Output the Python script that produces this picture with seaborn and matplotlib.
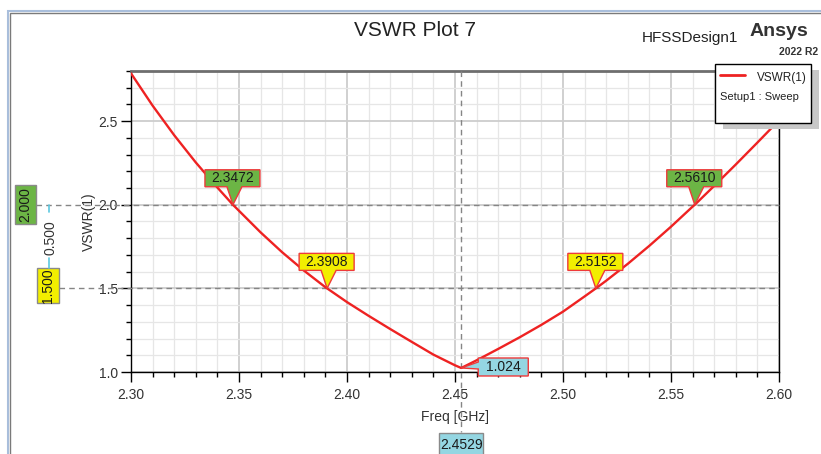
import numpy as np
import pandas as pd
import matplotlib
matplotlib.use("Agg")
import matplotlib.pyplot as plt
import seaborn as sns
from matplotlib.patches import Polygon, Rectangle
from matplotlib.transforms import IdentityTransform, blended_transform_factory
from matplotlib.ticker import MultipleLocator, FormatStrFormatter

# ---- data: VSWR(1) sweep, Setup1 : Sweep ----
freq_ghz = [2.30, 2.31, 2.32, 2.33, 2.34, 2.3472, 2.35, 2.36, 2.37, 2.38, 2.39, 2.3908,
            2.40, 2.41, 2.42, 2.43, 2.44, 2.45, 2.4529, 2.46, 2.47, 2.48, 2.49, 2.50,
            2.51, 2.5152, 2.52, 2.53, 2.54, 2.55, 2.56, 2.5610, 2.57, 2.58, 2.59, 2.60]
vswr = [2.786, 2.593, 2.416, 2.253, 2.103, 2.000, 1.964, 1.835, 1.716, 1.607, 1.507, 1.500,
        1.418, 1.336, 1.257, 1.180, 1.104, 1.040, 1.024, 1.070, 1.138, 1.208, 1.282, 1.361,
        1.452, 1.500, 1.546, 1.647, 1.755, 1.869, 1.989, 2.000, 2.113, 2.241, 2.372, 2.505]

# markers
level_values = [2.0, 1.5]
level_colors = ["#6cb545", "#f2ee00"]
cross_left = [2.3472, 2.3908]
cross_right = [2.5610, 2.5152]
cross_levels = [2.0, 1.5]
min_freq = 2.4529
min_vswr = 1.024
level_delta = 0.500

W, H = 821, 454
df = pd.DataFrame({"Freq [GHz]": freq_ghz, "VSWR(1)": vswr})

sns.set_style("white")
plt.rcParams["font.family"] = ["Liberation Sans", "DejaVu Sans"]

fig = plt.figure(figsize=(W / 100, H / 100), dpi=100)
ax = fig.add_axes([131 / W, 82 / H, 648 / W, 301 / H])

RED = "#ee2222"
sns.lineplot(data=df, x="Freq [GHz]", y="VSWR(1)", ax=ax, color=RED, lw=1.7, zorder=5)

ax.set_xlim(2.30, 2.60)
ax.set_ylim(1.0, 2.8)
ax.xaxis.set_major_locator(MultipleLocator(0.05))
ax.xaxis.set_minor_locator(MultipleLocator(0.01))
ax.yaxis.set_major_locator(MultipleLocator(0.5))
ax.yaxis.set_minor_locator(MultipleLocator(0.1))
ax.xaxis.set_major_formatter(FormatStrFormatter("%.2f"))
ax.yaxis.set_major_formatter(FormatStrFormatter("%.1f"))
ax.grid(which="minor", color="#e6e6e6", lw=0.9)
ax.grid(which="major", color="#cdcdcd", lw=1.3)
ax.set_axisbelow(True)
ax.tick_params(which="major", direction="out", length=7.5, width=1, color="black",
               labelsize=10, labelcolor="#333333", pad=2, left=True, bottom=True)
ax.tick_params(which="minor", direction="out", length=3.8, width=1, color="black",
               left=True, bottom=True)
ax.tick_params(axis="x", pad=4)
for s in ["left", "bottom", "right"]:
    ax.spines[s].set_color("black")
    ax.spines[s].set_linewidth(1.0)
ax.spines["top"].set_color("#6e6e6e")
ax.spines["top"].set_linewidth(2.0)
ax.set_xlabel("Freq [GHz]", fontsize=10, color="#333333", labelpad=6)
ax.set_ylabel("VSWR(1)", fontsize=10, color="#333333", labelpad=2)

# dashed marker lines
DASH = dict(color="#858585", lw=1.0, dashes=(4, 3), clip_on=False, zorder=4)
tr_h = blended_transform_factory(ax.transAxes, ax.transData)
tr_v = blended_transform_factory(ax.transData, ax.transAxes)
ax.plot([(36 - 131) / 648, 1.0], [level_values[0]] * 2, transform=tr_h, **DASH)
ax.plot([(59 - 131) / 648, 1.0], [level_values[1]] * 2, transform=tr_h, **DASH)
ax.plot([min_freq] * 2, [1.0, -60 / 301], transform=tr_v, **DASH)

ID = IdentityTransform()


def to_disp(x, y):
    return ax.transData.transform((x, y))


def patch(verts, fc, ec, lw=1.0, z=20):
    p = Polygon(verts, closed=True, facecolor=fc, edgecolor=ec, lw=lw,
                transform=ID, zorder=z)
    fig.add_artist(p)


def txt(x, y, s, size=9, rot=0, color="#1a1a1a", **kw):
    fig.text(x, y, s, transform=ID, fontsize=size, rotation=rot, color=color,
             ha=kw.pop("ha", "center"), va=kw.pop("va", "center"), zorder=25, **kw)


def callout_down(fx, fy, label, fc):
    px, py = to_disp(fx, fy)
    rel = [(-28, 18), (-6, 18), (0, 0), (9, 18), (27, 18), (27, 35), (-28, 35)]
    patch([(px + a, py + b) for a, b in rel], fc, "#ee3a3a")
    txt(px - 0.5, py + 26.5, label, size=10)


for f, lv, c in zip(cross_left, cross_levels, level_colors):
    callout_down(f, lv, f"{f:.4f}", c)
for f, lv, c in zip(cross_right, cross_levels, level_colors):
    callout_down(f, lv, f"{f:.4f}", c)

# minimum marker callout
CYAN = "#94d6e2"
px, py = to_disp(min_freq, min_vswr)
rel = [(0, 0), (17, 6), (17, 10), (67, 10), (67, -8), (17, -8), (17, -1)]
patch([(px + a, py + b) for a, b in rel], CYAN, "#ee3a3a")
txt(px + 42, py + 1, f"{min_vswr:.3f}", size=10)

# frequency readout below the axis
bx, _ = to_disp(min_freq, 1.0)
patch([(bx - 22, H - 433), (bx + 22, H - 433), (bx + 22, -5), (bx - 22, -5)], CYAN, "#8a8a8a")
txt(bx, H - 445, f"{min_freq:.4f}", size=10)

# level readouts on the left
_, y2 = to_disp(2.30, level_values[0])
_, y15 = to_disp(2.30, level_values[1])
patch([(15, y2 - 19), (36, y2 - 19), (36, y2 + 20), (15, y2 + 20)], level_colors[0], "#8a8a8a")
txt(25.5, y2, f"{level_values[0]:.3f}", size=10, rot=90)
patch([(37, H - 268), (59, H - 268), (59, H - 303), (37, H - 303)], level_colors[1], "#8a8a8a")
txt(48, H - 285.5, f"{level_values[1]:.3f}", size=10, rot=90)
for a, b in [(y2, y2 - 7), (H - 258, H - 268)]:
    fig.add_artist(plt.Line2D([49, 49], [a, b], color="#5cc8e0", lw=1.2, transform=ID, zorder=20))
txt(50.5, H - 238, f"{level_delta:.3f}", size=10, rot=90, color="#333333")

# titles and branding
txt(415, H - 30, "VSWR Plot 7", size=15, color="#222222")
txt(690, H - 38, "HFSSDesign1", size=11, color="#222222")
txt(808, H - 31, "Ansys", size=14, color="#333333", weight="bold", ha="right")
txt(818, H - 52, "2022 R2", size=7.5, color="#333333", weight="bold", ha="right")

# legend box with drop shadow
fig.add_artist(Rectangle((723, H - 129), 96, 59, facecolor="#c8c8c8", edgecolor="none",
                         transform=ID, zorder=18))
fig.add_artist(Rectangle((715, H - 123), 96, 59, facecolor="white", edgecolor="black",
                         lw=1.0, transform=ID, zorder=19))
fig.add_artist(plt.Line2D([720, 745], [H - 75, H - 75], color=RED, lw=2.0, transform=ID, zorder=20))
txt(807, H - 78, "VSWR(1)", size=8.5, color="#222222", ha="right")
txt(720, H - 97, "Setup1 : Sweep", size=8, color="#222222", ha="left")

# window frame
fig.add_artist(Rectangle((7.5, -10), 830, H - 10.5 + 10, facecolor="none", edgecolor="#a9bedb",
                         lw=1.5, transform=ID, zorder=30))
fig.add_artist(Rectangle((9.5, -10), 830, H - 12.5 + 10, facecolor="none", edgecolor="#7a7a7a",
                         lw=1.0, transform=ID, zorder=30))

fig.savefig("out.png", dpi=100)
